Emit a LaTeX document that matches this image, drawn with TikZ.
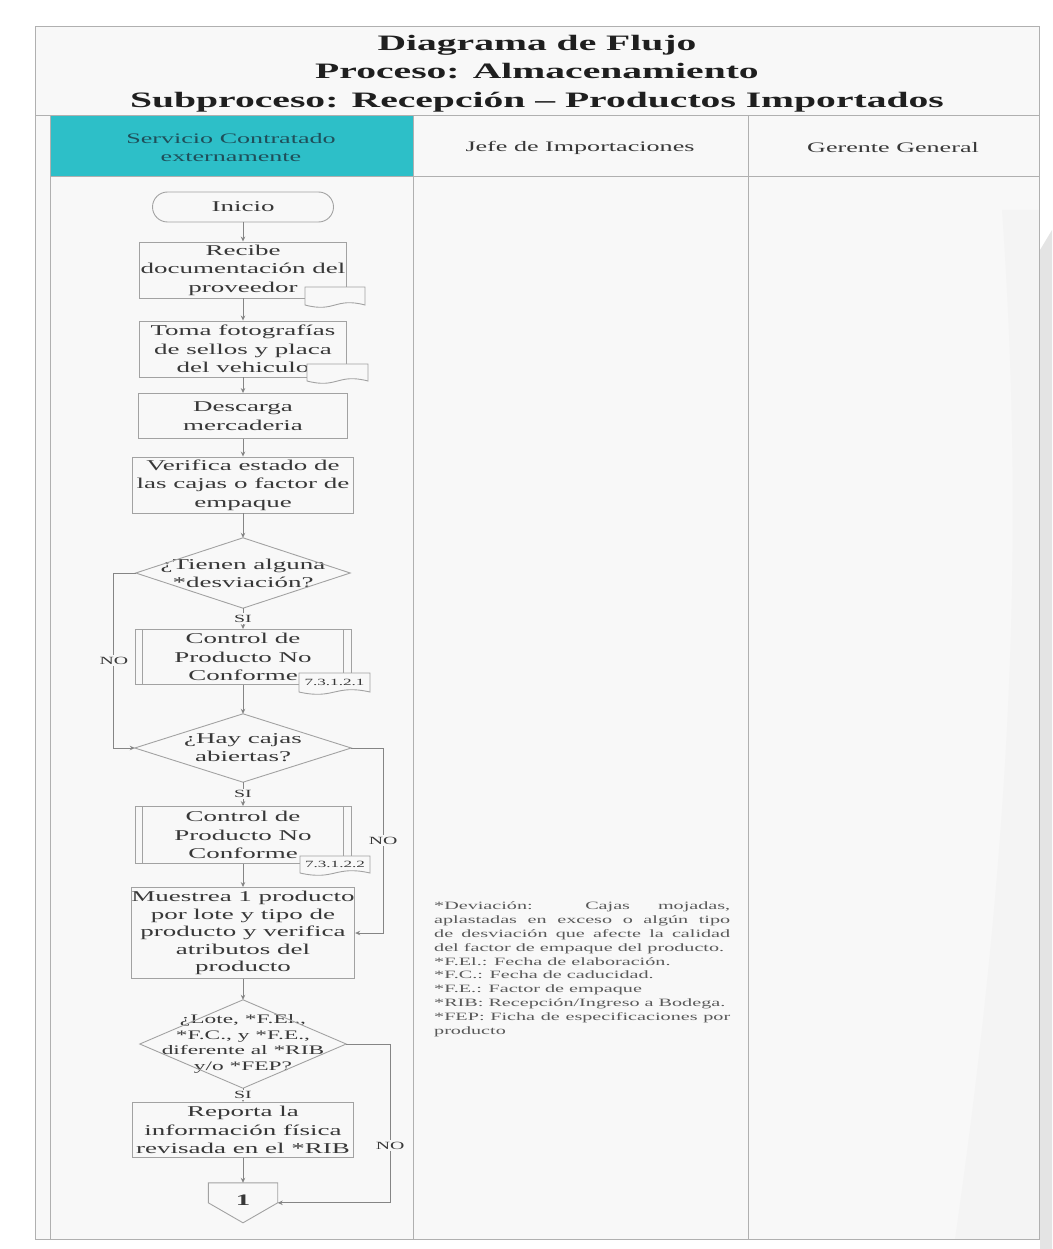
\documentclass[tikz,border=0pt]{standalone}
\usepackage{fontspec}
\setmainfont{Liberation Serif}[FakeStretch=1.8]
\usetikzlibrary{arrows.meta,calc}
\definecolor{cyanh}{HTML}{2DBFC8}
\definecolor{bgc}{HTML}{F8F8F8}
\definecolor{lnc}{HTML}{858585}
\definecolor{bxc}{HTML}{A2A2A2}
\definecolor{txc}{HTML}{383838}
\definecolor{frc}{HTML}{B0B0B0}
\definecolor{shd}{HTML}{E4E4E4}
\definecolor{hdrtxt}{HTML}{1F4F5A}
% document tab: name, x1, y1, x2, y2, text
\newcommand\doctab[6]{%
  \draw[box,fill=bgc] (#2,#3) -- (#4,#3) -- (#4,#5)
    .. controls ({(#2+#4)/2},{#5-8}) and ({(#2+#4)/2},{#5+8}) .. (#2,#5) -- cycle;
  \node[tabtxt] (#1) at ({(#2+#4)/2},{(#3+#5)/2}) {#6};}
\begin{document}
\begin{tikzpicture}[x=1pt,y=-1pt,
  box/.style={draw=bxc,line width=0.9pt},
  proc/.style={box,rectangle,fill=bgc,text=txc,align=center,inner sep=0pt,
    font=\fontsize{15}{18.5}\selectfont},
  term/.style={proc,rounded corners=15pt},
  dec/.style={rectangle,text=txc,align=center,inner sep=0pt,
    font=\fontsize{15}{18}\selectfont},
  conn/.style={draw=lnc,line width=0.9pt,-{Stealth[length=5pt,width=4.5pt]}},
  lbl/.style={fill=bgc,text=txc,inner sep=1.5pt,font=\fontsize{11}{13}\selectfont},
  tabtxt/.style={text=txc,inner sep=0pt,font=\fontsize{9.5}{11}\selectfont},
  hdr/.style={text=txc,align=center,font=\fontsize{14.5}{18}\selectfont},
  lanerule/.style={draw=frc,line width=1pt}]

\fill[white] (0,0) rectangle (1052,1249);
\useasboundingbox (0,0) rectangle (1052,1249);
% slide decoration
\fill[shd] (1040,250) -- (1052,230) -- (1052,1249) -- (1040,1249) -- cycle;
\fill[bgc] (35,27) rectangle (1039,1239);
\fill[gray!9] (1039,210) -- (1002,210) .. controls (1022,500) and (1018,800) .. (955,1239) -- (1039,1239) -- cycle;
% header
\fill[cyanh] (50,116) rectangle (413,177);
\draw[lanerule] (35,27) rectangle (1039,1239);
\draw[lanerule] (35,116) -- (1039,116);
\draw[lanerule] (50,177) -- (1039,177);
\draw[lanerule] (50,116) -- (50,1239);
\draw[lanerule] (413,116) -- (413,1239);
\draw[lanerule] (748,116) -- (748,1239);

\node[text=black!88,align=center,font=\bfseries\fontsize{22}{28.5}\selectfont] (ttl) at (537,73.5)
  {Diagrama de Flujo\\Proceso: Almacenamiento\\Subproceso: Recepción – Productos Importados};
\node[hdr,text=hdrtxt] (h1) at (231,147.5) {Servicio Contratado\\externamente};
\node[hdr] (h2) at (580,147.5) {Jefe de Importaciones};
\node[hdr] (h3) at (893,147.5) {Gerente General};

% flow nodes
\node[term,minimum width=181,minimum height=30] (ini) at (243,207) {Inicio};
\node[proc,minimum width=207,minimum height=56] (rec) at (243,270) {Recibe\\documentación del\\proveedor};
\node[proc,minimum width=207,minimum height=56] (tom) at (243,349) {Toma fotografías\\de sellos y placa\\del vehiculo};
\node[proc,minimum width=209,minimum height=45] (des) at (243,416) {Descarga\\mercaderia};
\node[proc,minimum width=221,minimum height=56] (ver) at (243,485) {Verifica estado de\\las cajas o factor de\\empaque};
\node[dec,minimum width=214,minimum height=70] (d1) at (243,573) {¿Tienen alguna\\{}*desviación?};
\node[proc,minimum width=216,minimum height=55] (pnc1) at (243,657) {Control de\\Producto No\\Conforme};
\node[dec,minimum width=216,minimum height=68] (d2) at (243,748) {¿Hay cajas\\abiertas?};
\node[proc,minimum width=216,minimum height=57] (pnc2) at (243,835) {Control de\\Producto No\\Conforme};
\node[proc,minimum width=219,minimum height=91,font=\fontsize{15}{17.5}\selectfont] (mue) at (243,933)
  {Muestrea 1 producto\\por lote y tipo de\\producto y verifica\\atributos del\\producto};
\node[dec,minimum width=206,minimum height=88,font=\fontsize{13}{15.5}\selectfont] (d3) at (243,1044)
  {¿Lote, *F.El.,\\{}*F.C., y *F.E.,\\diferente al *RIB\\y/o *FEP?};
\node[proc,minimum width=221,minimum height=55] (rep) at (243,1130) {Reporta la\\información física\\revisada en el *RIB};
\node[rectangle,inner sep=0pt,minimum width=69,minimum height=34,text=txc,
  font=\bfseries\fontsize{16}{18}\selectfont] (op) at (243,1200) {1};

% shapes drawn from node anchors
\foreach \d in {d1,d2,d3}
  \draw[box] (\d.north) -- (\d.east) -- (\d.south) -- (\d.west) -- cycle;
\foreach \p in {pnc1,pnc2}{
  \draw[box] ($(\p.north west)+(8,0)$) -- ($(\p.south west)+(8,0)$);
  \draw[box] ($(\p.north east)+(-8,0)$) -- ($(\p.south east)+(-8,0)$);}
\draw[box] (op.north west) -- (op.north east) -- ($(op.north east)+(0,20)$) coordinate (ope)
  -- ($(op.north)+(0,40)$) -- ($(op.north west)+(0,20)$) -- cycle;

% document tabs
\doctab{tr}{305}{287}{365}{305}{}
\doctab{tt}{307}{364}{368}{381}{}
\doctab{t1}{299}{673}{370}{692}{7.3.1.2.1}
\doctab{t2}{300}{856}{370}{873}{7.3.1.2.2}

% connectors
\draw[conn] (ini) -- (rec);
\draw[conn] (rec) -- (tom);
\draw[conn] (tom) -- (des);
\draw[conn] (des) -- (ver);
\draw[conn] (ver) -- (d1);
\draw[conn] (d1) -- node[lbl]{SI} (pnc1);
\draw[conn] (pnc1) -- (d2);
\draw[conn] (d2) -- node[lbl]{SI} (pnc2);
\draw[conn] (pnc2) -- (mue);
\draw[conn] (mue) -- (d3);
\draw[conn] (d3) -- node[lbl]{SI} (rep);
\draw[conn] (rep) -- (op);
\draw[conn] (d1.west) -- ++(-22,0) |- node[lbl,pos=0.25]{NO} (d2.west);
\draw[conn] (d2.east) -- ++(32,0) |- node[lbl,pos=0.25]{NO} (mue.east);
\draw[conn] (d3.east) -- ++(44,0) |- node[lbl,pos=0.32]{NO} (ope);

% note
\node[anchor=north west,text width=296pt,align=justify,inner sep=0pt,text=black!65,
  font=\fontsize{11.2}{13.8}\selectfont] (nota) at (434,902)
  {*Deviación: Cajas mojadas,\linebreak aplastadas en exceso o algún tipo\linebreak
   de desviación que afecte la calidad\linebreak del factor de empaque del producto.\\{}%
   *F.El.: Fecha de elaboración.\\{}%
   *F.C.: Fecha de caducidad.\\{}%
   *F.E.: Factor de empaque\\{}%
   *RIB: Recepción/Ingreso a Bodega.\\{}%
   *FEP: Ficha de especificaciones por\linebreak producto};
\end{tikzpicture}
\end{document}
